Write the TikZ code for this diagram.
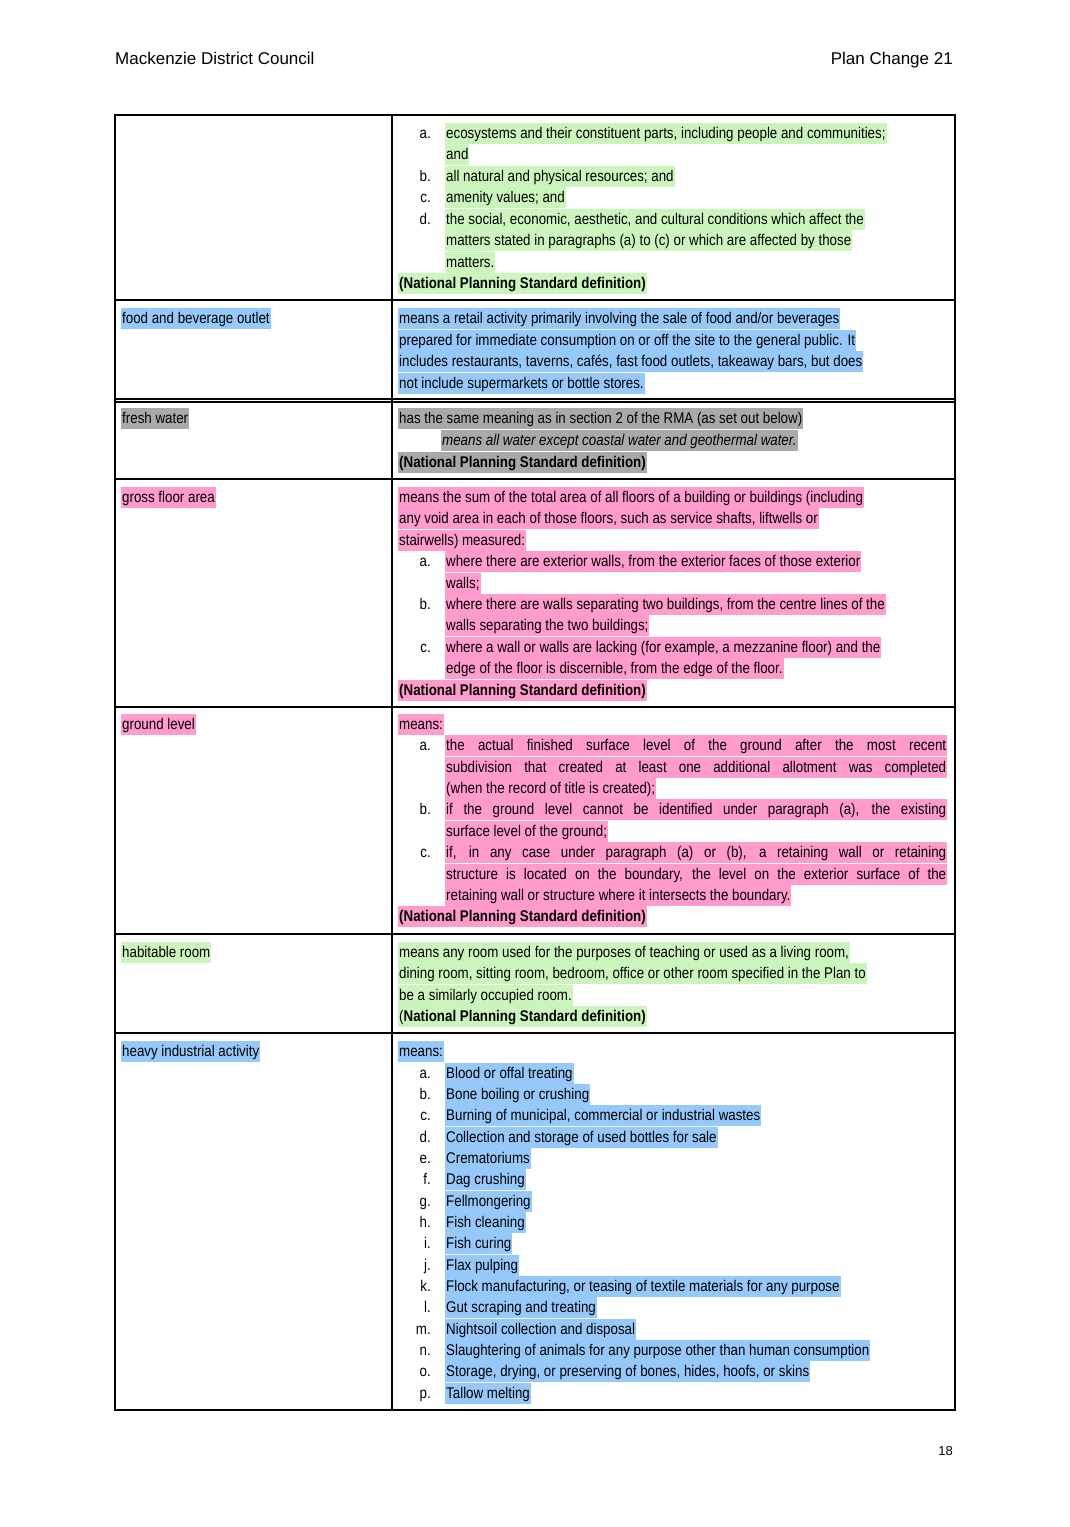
\documentclass[tikz,border=0pt]{standalone}
\usepackage{fontspec}
\setmainfont{Liberation Sans}
\newfontfamily\narrowfont[FakeStretch=0.86]{Liberation Sans}
\usetikzlibrary{positioning}
\definecolor{hlgreen}{RGB}{204,245,190}
\definecolor{hlblue}{RGB}{150,200,250}
\definecolor{hlgray}{RGB}{169,169,169}
\definecolor{hlpink}{RGB}{255,155,205}
\newcounter{ln}
\newcommand\body{\narrowfont\fontsize{15.5}{21.5}\selectfont}
\tikzset{
        hl/.style={fill=#1, inner xsep=1pt, inner ysep=0pt, text height=15.5pt,
                   text depth=5.5pt, anchor=base west, font=\body},
        item/.style={inner sep=0pt, anchor=base east, font=\body},
        grid/.style={line width=1.2pt},
 }
% one highlighted line of text
\newcommand\hlline[4]{\stepcounter{ln}\node[hl=#1] (t\theln) at (#2,#3) {#4};}
% a lettered item, text at 445
\newcommand\itm[4]{\stepcounter{ln}\node[item] (m\theln) at (431,#2) {#3};
  \hlline{#1}{445}{#2}{#4}}
\newcommand\just[1]{\makebox[500pt][s]{#1}}
\begin{document}
\begin{tikzpicture}[x=1pt,y=-1pt]
    \useasboundingbox (0,0) rectangle (1069,1527);
    % header and footer
    \node[anchor=base west, inner sep=0pt, font=\fontsize{17}{20}\selectfont] (head1) at (115,64) {Mackenzie District Council};
    \node[anchor=base east, inner sep=0pt, font=\fontsize{17}{20}\selectfont] (head2) at (953,64) {Plan Change 21};
    \node[anchor=base east, inner sep=0pt, font=\fontsize{13}{16}\selectfont] (page) at (953,1455) {18};

    % table
    \draw[grid] (115,115) rectangle (955,1410);
    \draw[grid] (392,115) -- (392,1410);
    \foreach \y in {300,399,402,479,707,934,1033}
        \draw[grid] (115,\y) -- (955,\y);

    % environment (continued)
    \itm{hlgreen}{138}{a.}{ecosystems and their constituent parts, including people and communities;}
    \hlline{hlgreen}{445}{159}{and}
    \itm{hlgreen}{181}{b.}{all natural and physical resources; and}
    \itm{hlgreen}{202}{c.}{amenity values; and}
    \itm{hlgreen}{224}{d.}{the social, economic, aesthetic, and cultural conditions which affect the}
    \hlline{hlgreen}{445}{245}{matters stated in paragraphs (a) to (c) or which are affected by those}
    \hlline{hlgreen}{445}{267}{matters.}
    \hlline{hlgreen}{398}{288}{\bfseries (National Planning Standard definition)}

    % food and beverage outlet
    \hlline{hlblue}{121}{323}{food and beverage outlet}
    \hlline{hlblue}{398}{323}{means a retail activity primarily involving the sale of food and/or beverages}
    \hlline{hlblue}{398}{345}{prepared for immediate consumption on or off the site to the general public. It}
    \hlline{hlblue}{398}{366}{includes restaurants, taverns, cafés, fast food outlets, takeaway bars, but does}
    \hlline{hlblue}{398}{388}{not include supermarkets or bottle stores.}

    % fresh water
    \hlline{hlgray}{121}{423}{fresh water}
    \hlline{hlgray}{398}{423}{has the same meaning as in section 2 of the RMA (as set out below)}
    \hlline{hlgray}{441}{445}{\itshape means all water except coastal water and geothermal water.}
    \hlline{hlgray}{398}{467}{\bfseries (National Planning Standard definition)}

    % gross floor area
    \hlline{hlpink}{121}{502}{gross floor area}
    \hlline{hlpink}{398}{502}{means the sum of the total area of all floors of a building or buildings (including}
    \hlline{hlpink}{398}{523}{any void area in each of those floors, such as service shafts, liftwells or}
    \hlline{hlpink}{398}{545}{stairwells) measured:}
    \itm{hlpink}{566}{a.}{where there are exterior walls, from the exterior faces of those exterior}
    \hlline{hlpink}{445}{588}{walls;}
    \itm{hlpink}{609}{b.}{where there are walls separating two buildings, from the centre lines of the}
    \hlline{hlpink}{445}{630}{walls separating the two buildings;}
    \itm{hlpink}{652}{c.}{where a wall or walls are lacking (for example, a mezzanine floor) and the}
    \hlline{hlpink}{445}{673}{edge of the floor is discernible, from the edge of the floor.}
    \hlline{hlpink}{398}{695}{\bfseries (National Planning Standard definition)}

    % ground level
    \hlline{hlpink}{121}{729}{ground level}
    \hlline{hlpink}{398}{729}{means:}
    \itm{hlpink}{750}{a.}{\just{the actual finished surface level of the ground after the most recent}}
    \hlline{hlpink}{445}{772}{\just{subdivision that created at least one additional allotment was completed}}
    \hlline{hlpink}{445}{793}{(when the record of title is created);}
    \itm{hlpink}{814}{b.}{\just{if the ground level cannot be identified under paragraph (a), the existing}}
    \hlline{hlpink}{445}{836}{surface level of the ground;}
    \itm{hlpink}{857}{c.}{\just{if, in any case under paragraph (a) or (b), a retaining wall or retaining}}
    \hlline{hlpink}{445}{879}{\just{structure is located on the boundary, the level on the exterior surface of the}}
    \hlline{hlpink}{445}{900}{retaining wall or structure where it intersects the boundary.}
    \hlline{hlpink}{398}{921}{\bfseries (National Planning Standard definition)}

    % habitable room
    \hlline{hlgreen}{121}{957}{habitable room}
    \hlline{hlgreen}{398}{957}{means any room used for the purposes of teaching or used as a living room,}
    \hlline{hlgreen}{398}{978}{dining room, sitting room, bedroom, office or other room specified in the Plan to}
    \hlline{hlgreen}{398}{1000}{be a similarly occupied room.}
    \hlline{hlgreen}{398}{1021}{(\textbf{National Planning Standard definition)}}

    % heavy industrial activity
    \hlline{hlblue}{121}{1056}{heavy industrial activity}
    \hlline{hlblue}{398}{1056}{means:}
    \foreach \k/\txt [count=\i from 0] in {a./Blood or offal treating,
        b./Bone boiling or crushing,
        c./{Burning of municipal, commercial or industrial wastes},
        d./Collection and storage of used bottles for sale,
        e./Crematoriums, f./Dag crushing, g./Fellmongering,
        h./Fish cleaning, i./Fish curing, j./Flax pulping,
        k./{Flock manufacturing, or teasing of textile materials for any purpose},
        l./Gut scraping and treating,
        m./Nightsoil collection and disposal,
        n./Slaughtering of animals for any purpose other than human consumption,
        o./{Storage, drying, or preserving of bones, hides, hoofs, or skins},
        p./Tallow melting}
        {\itm{hlblue}{1078+21.35*\i}{\k}{\txt}}
\end{tikzpicture}
\end{document}
